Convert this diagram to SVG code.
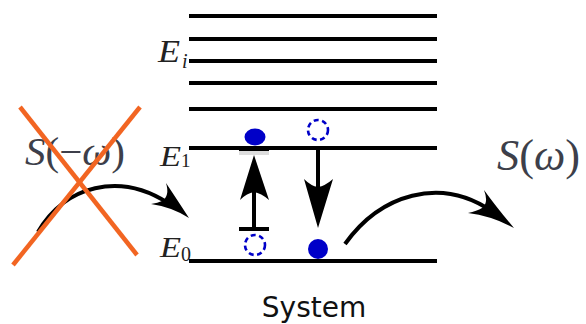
<svg xmlns="http://www.w3.org/2000/svg" width="586" height="324" viewBox="0 0 586 324">
  <style>
    .lvl { stroke: #000; stroke-width: 4; }
    .lbl { font-family: "Liberation Serif", "DejaVu Serif", serif; fill: #222; }
    .it { font-style: italic; }
    .sig { font-family: "Liberation Serif", "DejaVu Serif", serif; fill: #3d3f4a; }
    .dot { fill: #0000c8; }
    .hole { fill: none; stroke: #0000c8; stroke-width: 2.6; stroke-dasharray: 5 3.5; }
    .cross { stroke: #f26522; stroke-width: 4.5; stroke-linecap: butt; }
    .curve { fill: none; stroke: #000; stroke-width: 4; }
  </style>
  <rect width="586" height="324" fill="#fff"/>

  <g id="levels">
    <line class="lvl" x1="189" y1="16" x2="437" y2="16"/>
    <line class="lvl" x1="189" y1="39" x2="437" y2="39"/>
    <line class="lvl" x1="189" y1="61" x2="437" y2="61"/>
    <line class="lvl" x1="189" y1="83" x2="437" y2="83"/>
    <line class="lvl" x1="189" y1="109" x2="437" y2="109"/>
    <line class="lvl" x1="189" y1="148" x2="437" y2="148"/>
    <line class="lvl" x1="189" y1="261" x2="437" y2="261"/>
  </g>

  <g id="level-labels">
    <text class="lbl it" x="158" y="62" font-size="31" textLength="22" lengthAdjust="spacingAndGlyphs">E</text>
    <text class="lbl it" x="182" y="68" font-size="20">i</text>
    <text class="lbl it" x="160" y="166" font-size="29" textLength="21" lengthAdjust="spacingAndGlyphs">E</text>
    <text class="lbl" x="181" y="167" font-size="19">1</text>
    <text class="lbl it" x="160" y="257" font-size="29" textLength="21" lengthAdjust="spacingAndGlyphs">E</text>
    <text class="lbl" x="181" y="261" font-size="20">0</text>
  </g>

  <g id="absorption">
    <rect x="239" y="150" width="30" height="5" fill="#bbb" opacity="0.5"/>
    <rect x="239" y="146" width="30" height="5" fill="#000"/>
    <ellipse class="dot" cx="255" cy="137" rx="10.5" ry="8.5"/>
    <circle class="hole" cx="255" cy="245" r="10"/>
    <line x1="239" y1="229" x2="269" y2="229" stroke="#000" stroke-width="4"/>
    <line x1="254" y1="229" x2="254" y2="192" stroke="#000" stroke-width="4"/>
    <path d="M254,155 L269,200 Q261,193 254,192 Q247,193 240,200 Z" fill="#000"/>
  </g>

  <g id="emission">
    <circle class="hole" cx="318" cy="130" r="10"/>
    <line x1="318" y1="148" x2="318" y2="188" stroke="#000" stroke-width="4"/>
    <path d="M318,228 L304,179 Q311,186 318,187 Q325,186 333,179 Z" fill="#000"/>
    <circle class="dot" cx="318" cy="249" r="10"/>
  </g>

  <g id="connectors">
    <path class="curve" d="M38,232 C65,185 120,172 168,203"/>
    <path d="M189,218 Q176,198 166,183 Q170,196 162,201 Q158,203 151,204 Q172,207 189,218 Z" fill="#000"/>
    <path class="curve" d="M345,244 C380,195 440,175 493,212"/>
    <path d="M514,228 Q497,208 484,190 Q489,203 482,208 Q477,211 468,213 Q492,216 514,228 Z" fill="#000"/>
  </g>

  <g id="incoming-signal">
    <text class="sig" x="25" y="165" font-size="40" textLength="100" lengthAdjust="spacingAndGlyphs"><tspan class="it">S</tspan>(−<tspan class="it">ω</tspan>)</text>
  </g>

  <g id="outgoing-signal">
    <text class="sig" x="497" y="170" font-size="44" textLength="83" lengthAdjust="spacingAndGlyphs"><tspan class="it">S</tspan>(<tspan class="it">ω</tspan>)</text>
  </g>

  <g id="cross">
    <line class="cross" x1="20" y1="107" x2="137" y2="255"/>
    <line class="cross" x1="140" y1="107" x2="13" y2="265"/>
  </g>

  <g id="system-label">
    <text x="314" y="317" font-family="DejaVu Sans, sans-serif" font-size="28" text-anchor="middle" fill="#111">System</text>
  </g>
</svg>
